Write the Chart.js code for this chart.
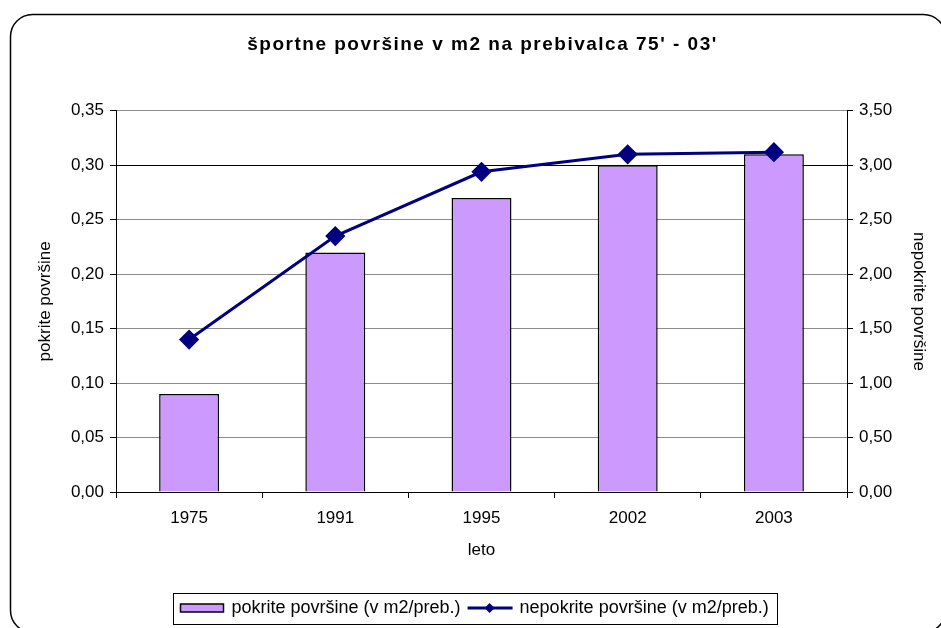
<!DOCTYPE html>
<html>
<head>
<meta charset="utf-8">
<script src="https://cdn.jsdelivr.net/npm/chart.js@4"></script>
<style>
  html, body { margin: 0; padding: 0; background: #fff; }
  #wrap { width: 941px; height: 628px; position: relative; }
</style>
</head>
<body>
<div id="wrap"><canvas id="chart" width="941" height="628"></canvas></div>
<script>
const years = ['1975', '1991', '1995', '2002', '2003'];
const covered = [0.09, 0.22, 0.27, 0.30, 0.31];
const uncovered = [1.40, 2.35, 2.94, 3.10, 3.12];
const coveredLabel = 'pokrite površine (v m2/preb.)';
const uncoveredLabel = 'nepokrite površine (v m2/preb.)';

const FONT = 'Liberation Sans, Arial, sans-serif';
const BAR_COLOR = '#cc99ff';
const LINE_COLOR = '#000080';

const fmt = v => v.toFixed(2).replace('.', ',');

// outer rounded frame, wider title spacing, hand drawn legend box
const framePlugin = {
  id: 'frame',
  beforeDraw(chart) {
    const ctx = chart.ctx;
    const tb = chart.titleBlock;
    if (tb && !tb._spaced) {
      const orig = tb.draw.bind(tb);
      tb.draw = (area) => {
        ctx.save();
        ctx.letterSpacing = '1.5px';
        ctx.translate(12, 0);
        orig(area);
        ctx.restore();
      };
      tb._spaced = true;
    }
    ctx.save();
    ctx.fillStyle = '#fff';
    ctx.fillRect(0, 0, chart.width, chart.height);
    ctx.beginPath();
    ctx.roundRect(10.5, 14.5, 935, 618, 22);
    ctx.lineWidth = 1.5;
    ctx.strokeStyle = '#000';
    ctx.stroke();
    ctx.restore();
  },
  afterDraw(chart) {
    const ctx = chart.ctx;
    ctx.save();
    ctx.font = '18px ' + FONT;
    ctx.textBaseline = 'middle';
    const w1 = ctx.measureText(coveredLabel).width;
    const w2 = ctx.measureText(uncoveredLabel).width;
    const left = 173.5, top = 593.5, h = 31, cy = 608;
    const total = 7 + 43 + 8 + w1 + 7 + 45 + 7 + w2 + 9;
    ctx.strokeStyle = '#000';
    ctx.lineWidth = 1;
    ctx.strokeRect(left, top, Math.round(total), h);
    let x = left + 7;
    ctx.fillStyle = BAR_COLOR;
    ctx.fillRect(x, cy - 4, 43, 8);
    ctx.lineWidth = 1.5;
    ctx.strokeRect(x, cy - 4, 43, 8);
    x += 43 + 8;
    ctx.fillStyle = '#000';
    ctx.fillText(coveredLabel, x, cy);
    x += w1 + 7;
    ctx.strokeStyle = LINE_COLOR;
    ctx.lineWidth = 3;
    ctx.beginPath();
    ctx.moveTo(x, cy);
    ctx.lineTo(x + 45, cy);
    ctx.stroke();
    ctx.fillStyle = LINE_COLOR;
    ctx.beginPath();
    const mx = x + 22;
    ctx.moveTo(mx, cy - 5);
    ctx.lineTo(mx + 5, cy);
    ctx.lineTo(mx, cy + 5);
    ctx.lineTo(mx - 5, cy);
    ctx.closePath();
    ctx.fill();
    x += 45 + 7;
    ctx.fillStyle = '#000';
    ctx.fillText(uncoveredLabel, x, cy);
    ctx.restore();
  }
};

const ctx = document.getElementById('chart').getContext('2d');
const chart = new Chart(ctx, {
  type: 'bar',
  data: {
    labels: years,
    datasets: [
      {
        type: 'line',
        label: uncoveredLabel,
        data: uncovered,
        yAxisID: 'y1',
        borderColor: LINE_COLOR,
        backgroundColor: LINE_COLOR,
        borderWidth: 3,
        pointStyle: 'rectRot',
        pointRadius: 8,
        pointHoverRadius: 8,
        tension: 0,
        order: 0
      },
      {
        type: 'bar',
        label: coveredLabel,
        data: covered,
        yAxisID: 'y',
        backgroundColor: BAR_COLOR,
        borderColor: '#000',
        borderWidth: 1.5,
        categoryPercentage: 1,
        barPercentage: 0.41,
        order: 1
      }
    ]
  },
  options: {
    responsive: false,
    animation: false,
    layout: { padding: { left: 0, right: 0, top: 0, bottom: 45 } },
    plugins: {
      legend: { display: false },
      tooltip: { enabled: false },
      title: {
        display: true,
        text: "športne površine v m2 na prebivalca 75' - 03'",
        color: '#000',
        font: { family: FONT, size: 19, weight: 'bold', lineHeight: 1.2 },
        padding: { top: 33, bottom: 55 }
      }
    },
    scales: {
      x: {
        offset: true,
        grid: { drawOnChartArea: false, offset: true, tickLength: 6, color: '#000' },
        border: { color: '#000', width: 1 },
        ticks: { color: '#000', font: { family: FONT, size: 17 }, padding: 10 },
        title: {
          display: true, text: 'leto', color: '#000',
          font: { family: FONT, size: 17 }, padding: { top: 0, bottom: 22 }
        },
        afterFit(scale) { scale.height = 91; }
      },
      y: {
        position: 'left',
        min: 0, max: 0.35,
        grid: {
          color: ctx => (ctx.tick && Math.abs(ctx.tick.value - 0.30) < 1e-6) ? '#000' : '#8c8c8c',
          tickColor: '#000',
          tickLength: 6
        },
        border: { color: '#000', width: 1 },
        ticks: {
          stepSize: 0.05, color: '#000', padding: 6,
          font: { family: FONT, size: 17 },
          callback: v => fmt(v)
        },
        title: {
          display: true, text: 'pokrite površine', color: '#000',
          font: { family: FONT, size: 17 }, padding: { top: 35, bottom: 0 }
        },
        afterFit(scale) { scale.width = 116; }
      },
      y1: {
        position: 'right',
        min: 0, max: 3.5,
        grid: { drawOnChartArea: false, tickColor: '#000', tickLength: 6 },
        border: { color: '#000', width: 1 },
        ticks: {
          stepSize: 0.5, color: '#000', padding: 6,
          font: { family: FONT, size: 17 },
          callback: v => fmt(v)
        },
        title: {
          display: true, text: 'nepokrite površine', color: '#000',
          font: { family: FONT, size: 17 }, padding: { top: 12, bottom: 0 }
        },
        afterFit(scale) { scale.width = 94; }
      }
    }
  },
  plugins: [framePlugin]
});
</script>
</body>
</html>
